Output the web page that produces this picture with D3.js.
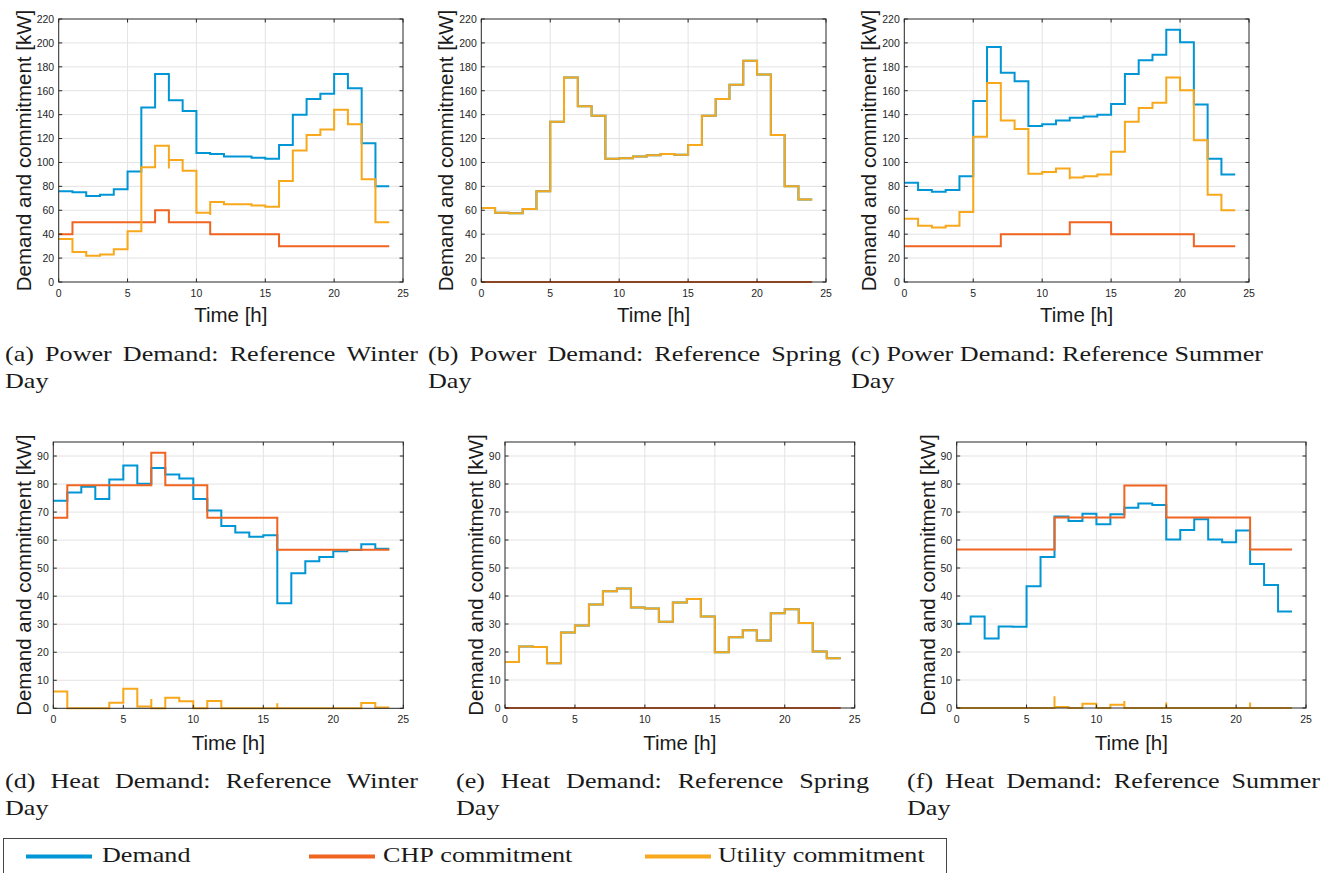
<!DOCTYPE html>
<html>
<head>
<meta charset="utf-8">
<script src="https://cdn.jsdelivr.net/npm/d3@7/dist/d3.min.js"></script>
<style>
  body { margin: 0; background: #fff; }
  svg { display: block; }
</style>
</head>
<body>
<svg id="fig" width="1332" height="873"></svg>
<script>
// hourly values, hour 0..23 (each held until the next hour, last one held to 24)
var hours = d3.range(0, 24);
var xTicks = [0, 5, 10, 15, 20, 25];
var powerTicks = [0, 20, 40, 60, 80, 100, 120, 140, 160, 180, 200, 220];
var heatTicks = [0, 10, 20, 30, 40, 50, 60, 70, 80, 90];

var seriesNames = ["Demand", "CHP commitment", "Utility commitment"];
var seriesColors = ["#0095d5", "#ef6421", "#f7a81b"];

var powerWinterDemand = [76, 75, 72, 73, 77.5, 92.5, 146, 174, 152, 143, 108, 107, 105, 105, 104, 103, 114.5, 140, 153, 157.5, 174, 162, 116, 80];
var powerWinterCHP = [40, 50, 50, 50, 50, 50, 50, 60, 50, 50, 50, 40, 40, 40, 40, 40, 30, 30, 30, 30, 30, 30, 30, 30];
var powerWinterUtility = [36, 25, 22, 23, 27.5, 42.5, 96, 114, 102, 93, 58, 67, 65, 65, 64, 63, 84.5, 110, 123, 127.5, 144, 132, 86, 50];
var powerWinterSpikes = [[8, 95], [11, 56]];

var powerSpringDemand = [62, 58, 57.5, 61, 76, 134, 171, 147, 139, 103, 103.5, 105, 106, 107, 106.5, 114.5, 139, 153, 165, 185, 173.5, 123, 80, 69];
var powerSpringCHP = [0, 0, 0, 0, 0, 0, 0, 0, 0, 0, 0, 0, 0, 0, 0, 0, 0, 0, 0, 0, 0, 0, 0, 0];
var powerSpringUtility = [62, 58, 57.5, 61, 76, 134, 171, 147, 139, 103, 103.5, 105, 106, 107, 106.5, 114.5, 139, 153, 165, 185, 173.5, 123, 80, 69];
var powerSpringSpikes = [];

var powerSummerDemand = [83, 77, 75.5, 77, 88.5, 151.5, 196.5, 175, 168, 130.5, 132, 135, 137.5, 138.5, 140, 149, 174, 185.5, 190, 211, 200.5, 148.5, 103, 90];
var powerSummerCHP = [30, 30, 30, 30, 30, 30, 30, 40, 40, 40, 40, 40, 50, 50, 50, 40, 40, 40, 40, 40, 40, 30, 30, 30];
var powerSummerUtility = [53, 47, 45.5, 47, 58.5, 121.5, 166.5, 135, 128, 90.5, 92, 95, 87.5, 88.5, 90, 109, 134, 145.5, 150, 171, 160.5, 118.5, 73, 60];
var powerSummerSpikes = [[12, 86]];

var heatWinterDemand = [74, 77, 79, 74.7, 81.6, 86.6, 80.1, 85.7, 83.4, 82, 74.7, 70.6, 65, 62.7, 61.2, 61.7, 37.5, 48.2, 52.5, 54, 56, 56.5, 58.5, 56.9];
var heatWinterCHP = [68, 79.6, 79.6, 79.6, 79.6, 79.6, 79.6, 91.2, 79.6, 79.6, 79.6, 68, 68, 68, 68, 68, 56.6, 56.6, 56.6, 56.6, 56.6, 56.6, 56.6, 56.6];
var heatWinterUtility = [6, 0, 0, 0, 2, 7, 0.6, 0, 3.8, 2.5, 0, 2.6, 0, 0, 0, 0, 0, 0, 0, 0, 0, 0, 1.9, 0.3];
var heatWinterSpikes = [[7, 3.3], [16, 1.8]];

var heatSpringDemand = [16.4, 22, 21.8, 16, 27, 29.5, 37, 41.7, 42.7, 35.9, 35.5, 30.8, 37.7, 38.9, 32.7, 19.9, 25.3, 27.8, 24.1, 33.8, 35.3, 30.4, 20.2, 17.8];
var heatSpringCHP = [0, 0, 0, 0, 0, 0, 0, 0, 0, 0, 0, 0, 0, 0, 0, 0, 0, 0, 0, 0, 0, 0, 0, 0];
var heatSpringUtility = [16.4, 22, 21.8, 16, 27, 29.5, 37, 41.7, 42.7, 35.9, 35.5, 30.8, 37.7, 38.9, 32.7, 19.9, 25.3, 27.8, 24.1, 33.8, 35.3, 30.4, 20.2, 17.8];
var heatSpringSpikes = [];

var heatSummerDemand = [30.1, 32.7, 24.8, 29.1, 29, 43.5, 53.9, 68.4, 66.8, 69.4, 65.6, 69.2, 71.5, 73, 72.5, 60.2, 63.6, 67.4, 60.2, 59.2, 63.4, 51.4, 43.9, 34.5];
var heatSummerCHP = [56.6, 56.6, 56.6, 56.6, 56.6, 56.6, 56.6, 68, 68, 68, 68, 68, 79.5, 79.5, 79.5, 68, 68, 68, 68, 68, 68, 56.6, 56.6, 56.6];
var heatSummerUtility = [0, 0, 0, 0, 0, 0, 0, 0.4, 0, 1.5, 0, 1.2, 0, 0, 0, 0, 0, 0, 0, 0, 0, 0, 0, 0];
var heatSummerSpikes = [[7, 4.2], [12, 2.5], [15, 2], [21, 2]];

var panels = [
  { left: 58.7, right: 403, top: 19, bottom: 282, yMax: 220, yTicks: powerTicks, ylab: 28, xlab: 40,
    series: [powerWinterDemand, powerWinterCHP, powerWinterUtility], spikes: powerWinterSpikes,
    cap: "(a) Power Demand:  Reference Winter", capX: 5, capW: 413, capY: 361 },
  { left: 481.3, right: 826, top: 19, bottom: 282, yMax: 220, yTicks: powerTicks, ylab: 28, xlab: 40,
    series: [powerSpringDemand, powerSpringCHP, powerSpringUtility], spikes: powerSpringSpikes,
    cap: "(b) Power Demand:  Reference Spring", capX: 428, capW: 413, capY: 361 },
  { left: 904.3, right: 1249, top: 19, bottom: 282, yMax: 220, yTicks: powerTicks, ylab: 28, xlab: 40,
    series: [powerSummerDemand, powerSummerCHP, powerSummerUtility], spikes: powerSummerSpikes,
    cap: "(c) Power Demand: Reference Summer", capX: 851, capW: 412, capY: 361 },
  { left: 53.3, right: 403.3, top: 442, bottom: 708.3, yMax: 95, yTicks: heatTicks, ylab: 22, xlab: 42,
    series: [heatWinterDemand, heatWinterCHP, heatWinterUtility], spikes: heatWinterSpikes,
    cap: "(d) Heat Demand:  Reference Winter", capX: 5, capW: 413, capY: 788 },
  { left: 505, right: 854.7, top: 442, bottom: 708, yMax: 95, yTicks: heatTicks, ylab: 22, xlab: 42,
    series: [heatSpringDemand, heatSpringCHP, heatSpringUtility], spikes: heatSpringSpikes,
    cap: "(e) Heat Demand:  Reference Spring", capX: 456, capW: 413, capY: 788 },
  { left: 956.7, right: 1306, top: 442, bottom: 708, yMax: 95, yTicks: heatTicks, ylab: 22, xlab: 42,
    series: [heatSummerDemand, heatSummerCHP, heatSummerUtility], spikes: heatSummerSpikes,
    cap: "(f) Heat Demand:  Reference Summer", capX: 907, capW: 413, capY: 788 }
];

var svg = d3.select("#fig");
var axisColor = "#262626";
var sansFont = "'Liberation Sans', Arial, sans-serif";
var serifFont = "'Liberation Serif', 'DejaVu Serif', serif";
var serifSize = 21;

// horizontal stretch so the serif captions take the width of the original (wider) typeface
var probe = svg.append("text").attr("font-family", serifFont).attr("font-size", serifSize)
  .text("(c) Power Demand: Reference Summer");
var sx = 412 / probe.node().getComputedTextLength();
probe.remove();

// build stair points, adding the short vertical spikes seen at some switch times
function stairPoints(values, spikes) {
  var pts = [];
  hours.forEach(function(h) {
    if (h > 0) {
      var sp = spikes.filter(function(s) { return s[0] === h; });
      if (sp.length) {
        pts.push([h, values[h - 1]]);
        pts.push([h, sp[0][1]]);
      }
    }
    pts.push([h, values[h]]);
  });
  pts.push([24, values[values.length - 1]]);
  return pts;
}

// serif text line, optionally justified to a width by stretching the gaps between words
function serifLine(x, y, str, width) {
  var g = svg.append("g").attr("transform", "translate(" + x + "," + y + ") scale(" + sx + ",1)");
  var words = str.split(/\s+/);
  var nodes = words.map(function(w) {
    return g.append("text").attr("font-family", serifFont).attr("font-size", serifSize)
      .attr("fill", "#1a1a1a").text(w);
  });
  var widths = nodes.map(function(n) { return n.node().getComputedTextLength(); });
  var space = serifSize * 0.25;
  var gap = space;
  if (width && words.length > 1) {
    gap = (width / sx - d3.sum(widths)) / (words.length - 1);
  }
  var cx = 0;
  nodes.forEach(function(n, i) {
    n.attr("x", cx);
    cx += widths[i] + gap;
  });
}

function drawPanel(p) {
  var x = d3.scaleLinear().domain([0, 25]).range([p.left, p.right]);
  var y = d3.scaleLinear().domain([0, p.yMax]).range([p.bottom, p.top]);
  var g = svg.append("g");
  var tickLen = 3.5;

  // grid
  g.selectAll(".gx").data(xTicks.slice(1, -1)).enter().append("line")
    .attr("x1", function(d) { return x(d); }).attr("x2", function(d) { return x(d); })
    .attr("y1", p.top).attr("y2", p.bottom)
    .attr("stroke", "#e3e3e3").attr("stroke-width", 1);
  g.selectAll(".gy").data(p.yTicks.filter(function(d) { return d > 0 && d < p.yMax; })).enter().append("line")
    .attr("x1", p.left).attr("x2", p.right)
    .attr("y1", function(d) { return y(d); }).attr("y2", function(d) { return y(d); })
    .attr("stroke", "#e3e3e3").attr("stroke-width", 1);

  // series lines
  var line = d3.line()
    .x(function(d) { return x(d[0]); })
    .y(function(d) { return y(d[1]); })
    .curve(d3.curveStepAfter);
  p.series.forEach(function(vals, i) {
    var spk = (i === 2) ? p.spikes : [];
    g.append("path")
      .attr("d", line(stairPoints(vals, spk)))
      .attr("fill", "none")
      .attr("stroke", seriesColors[i])
      .attr("stroke-width", 2);
  });

  // box
  g.append("rect")
    .attr("x", p.left).attr("y", p.top)
    .attr("width", p.right - p.left).attr("height", p.bottom - p.top)
    .attr("fill", "none").attr("stroke", axisColor).attr("stroke-width", 1);

  // inward ticks on all four sides
  xTicks.forEach(function(t) {
    g.append("line").attr("x1", x(t)).attr("x2", x(t)).attr("y1", p.bottom).attr("y2", p.bottom - tickLen)
      .attr("stroke", axisColor);
    g.append("line").attr("x1", x(t)).attr("x2", x(t)).attr("y1", p.top).attr("y2", p.top + tickLen)
      .attr("stroke", axisColor);
  });
  p.yTicks.forEach(function(t) {
    g.append("line").attr("x1", p.left).attr("x2", p.left + tickLen).attr("y1", y(t)).attr("y2", y(t))
      .attr("stroke", axisColor);
    g.append("line").attr("x1", p.right).attr("x2", p.right - tickLen).attr("y1", y(t)).attr("y2", y(t))
      .attr("stroke", axisColor);
  });

  // tick labels
  g.selectAll(".xl").data(xTicks).enter().append("text")
    .attr("x", function(d) { return x(d); })
    .attr("y", p.bottom + 15)
    .attr("text-anchor", "middle")
    .attr("font-family", sansFont).attr("font-size", 10.5).attr("fill", axisColor)
    .text(function(d) { return d; });
  g.selectAll(".yl").data(p.yTicks).enter().append("text")
    .attr("x", p.left - 4.5)
    .attr("y", function(d) { return y(d) + 3.8; })
    .attr("text-anchor", "end")
    .attr("font-family", sansFont).attr("font-size", 10.5).attr("fill", axisColor)
    .text(function(d) { return d; });

  // axis titles
  g.append("text")
    .attr("x", (p.left + p.right) / 2).attr("y", p.bottom + p.xlab)
    .attr("text-anchor", "middle")
    .attr("font-family", sansFont).attr("font-size", 20.5).attr("fill", "#1a1a1a")
    .text("Time [h]");
  g.append("text")
    .attr("transform", "translate(" + (p.left - p.ylab) + "," + ((p.top + p.bottom) / 2) + ") rotate(-90)")
    .attr("text-anchor", "middle")
    .attr("font-family", sansFont).attr("font-size", 20.5).attr("fill", "#1a1a1a")
    .text("Demand and commitment [kW]");

  // caption: justified first line, then "Day"
  serifLine(p.capX, p.capY, p.cap, p.capW);
  serifLine(p.capX, p.capY + 27, "Day", null);
}

panels.forEach(drawPanel);

// legend
var legendLineX = [26, 309, 645];
var legendTextX = [102, 383, 718];
svg.append("rect")
  .attr("x", 3.5).attr("y", 838.5).attr("width", 943).attr("height", 50)
  .attr("fill", "none").attr("stroke", "#444").attr("stroke-width", 1);
seriesNames.forEach(function(name, i) {
  svg.append("line")
    .attr("x1", legendLineX[i]).attr("x2", legendLineX[i] + 66)
    .attr("y1", 856.5).attr("y2", 856.5)
    .attr("stroke", seriesColors[i]).attr("stroke-width", 4);
  serifLine(legendTextX[i], 862, name, null);
});
</script>
</body>
</html>
